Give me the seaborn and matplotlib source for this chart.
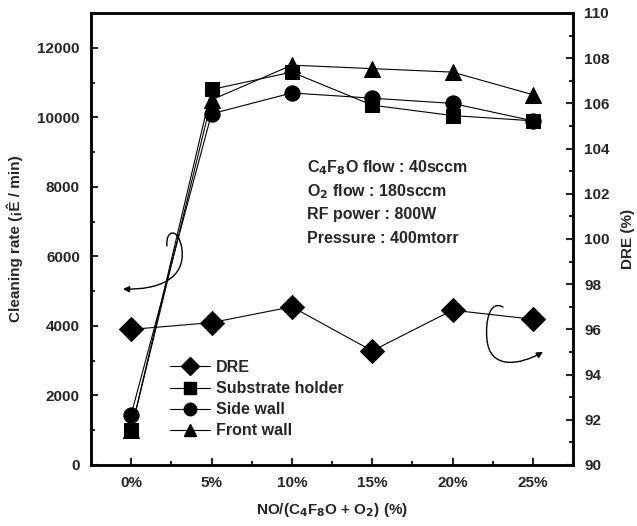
import numpy as np
import pandas as pd
import matplotlib
matplotlib.use("Agg")
import matplotlib.pyplot as plt
import seaborn as sns
from matplotlib.path import Path
from matplotlib.patches import FancyArrowPatch
from matplotlib.lines import Line2D

categories = ["0%", "5%", "10%", "15%", "20%", "25%"]
substrate_holder = [1000, 10800, 11300, 10350, 10050, 9900]
side_wall = [1450, 10100, 10700, 10550, 10400, 9900]
front_wall = [1000, 10500, 11500, 11400, 11300, 10650]
dre = [96.0, 96.3, 97.0, 95.05, 96.85, 96.45]
left_ticks = [0, 2000, 4000, 6000, 8000, 10000, 12000]
right_ticks = [90, 92, 94, 96, 98, 100, 102, 104, 106, 108, 110]
info_lines = ["C$_4$F$_8$O flow : 40sccm", "O$_2$ flow : 180sccm",
              "RF power : 800W", "Pressure : 400mtorr"]

sns.set_style("ticks")
plt.rcParams['font.family'] = ['Liberation Sans', 'DejaVu Sans']
plt.rcParams['font.weight'] = 'bold'
plt.rcParams['mathtext.default'] = 'bf'

fig = plt.figure(figsize=(6.37, 5.26), dpi=100)
ax = fig.add_axes([91/637, 61/526, 482/637, 452/526])
ax2 = ax.twinx()

xi = np.arange(len(categories))
df = pd.DataFrame({"x": xi, "sub": substrate_holder, "side": side_wall,
                   "front": front_wall, "dre": dre})

lw = 0.8
sns.lineplot(data=df, x="x", y="sub", ax=ax, color="black", lw=lw,
             marker="s", markersize=10, markeredgecolor="black")
sns.lineplot(data=df, x="x", y="side", ax=ax, color="black", lw=lw,
             marker="o", markersize=11, markeredgecolor="black")
sns.lineplot(data=df, x="x", y="front", ax=ax, color="black", lw=lw,
             marker="^", markersize=12, markeredgecolor="black")
sns.lineplot(data=df, x="x", y="dre", ax=ax2, color="black", lw=lw,
             marker="D", markersize=12, markeredgecolor="black")

ax.set_xlim(-0.5, 5.5)
ax.set_ylim(0, 13000)
ax2.set_ylim(90, 110)
ax.set_xticks(xi)
ax.set_xticklabels(categories)
ax.set_xticks(xi[:-1] + 0.5, minor=True)
ax.set_yticks(left_ticks)
ax.set_yticks(np.arange(1000, 13000, 2000), minor=True)
ax2.set_yticks(right_ticks)
ax2.set_yticks(np.arange(91, 110, 2), minor=True)

ax.set_xlabel("NO/(C$_4$F$_8$O + O$_2$) (%)", fontsize=11, fontweight='bold', labelpad=8)
ax.set_ylabel("Cleaning rate (¡Ê / min)", fontsize=11, fontweight='bold', labelpad=10)
ax2.set_ylabel("DRE (%)", fontsize=11, fontweight='bold', labelpad=8)

for a in (ax, ax2):
    for s in a.spines.values():
        s.set_linewidth(1.8)
        s.set_color("black")
    a.tick_params(which='major', direction='in', length=5, width=1.5,
                  labelsize=11, pad=8)
    a.tick_params(which='minor', direction='in', length=3, width=1.5)
ax.tick_params(axis='y', which='both', right=False)
ax.tick_params(axis='x', which='both', top=False)
ax2.tick_params(axis='y', which='both', left=False)
for lab in ax.get_xticklabels() + ax.get_yticklabels() + ax2.get_yticklabels():
    lab.set_fontweight('bold')

# info text
for i, t in enumerate(info_lines):
    ax.text((307 - 91) / 482, (465 - 168 - i * 23.5) / 452, t, transform=ax.transAxes,
            fontsize=11.5, fontweight='bold', va='center', ha='left')

# legend
handles = [
    Line2D([], [], color='black', lw=lw, marker='D', markersize=9),
    Line2D([], [], color='black', lw=lw, marker='s', markersize=8),
    Line2D([], [], color='black', lw=lw, marker='o', markersize=9),
    Line2D([], [], color='black', lw=lw, marker='^', markersize=9),
]
ax.legend(handles, ["DRE", "Substrate holder", "Side wall", "Front wall"],
          loc='lower left', bbox_to_anchor=(0.15, 0.045), frameon=False,
          prop={'size': 11.5, 'weight': 'bold'}, handlelength=2.5,
          labelspacing=0.38, handletextpad=0.4, borderaxespad=0)
if ax2.get_legend() is not None:
    ax2.get_legend().remove()


def px(x, y):
    return ((x - 91) / 482, (465 - y) / 452)


def curve_arrow(points):
    verts = [px(*p) for p in points]
    codes = [Path.MOVETO] + [Path.CURVE4] * (len(verts) - 1)
    arr = FancyArrowPatch(path=Path(verts, codes), transform=ax.transAxes,
                          arrowstyle='-|>', mutation_scale=9, lw=1.0,
                          color='black', zorder=5)
    ax2.add_patch(arr)
    arr.set_transform(ax.transAxes)


curve_arrow([(167, 246), (165, 230), (179, 226), (182, 250),
             (185, 278), (160, 290), (123, 289)])
curve_arrow([(503, 307), (490, 300), (485, 320), (487, 340),
             (490, 370), (520, 365), (543, 352)])

fig.savefig("out.png", dpi=100)
